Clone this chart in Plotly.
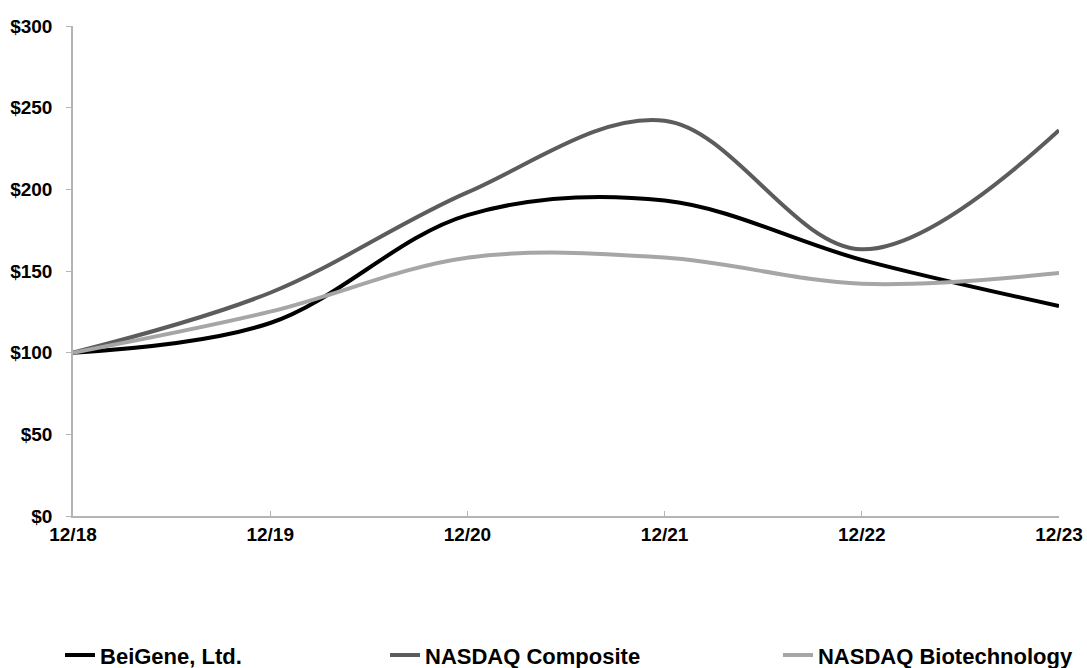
import plotly.graph_objects as go

periods = ["12/18", "12/19", "12/20", "12/21", "12/22", "12/23"]
beigene = [100, 118.16, 184.22, 193.13, 156.82, 128.58]
nasdaq_comp = [100, 136.69, 198.10, 242.03, 163.28, 236.17]
nasdaq_bio = [100, 125.11, 158.17, 158.19, 142.19, 148.72]
y_ticks = [0, 50, 100, 150, 200, 250, 300]
y_tick_labels = ["$0", "$50", "$100", "$150", "$200", "$250", "$300"]

FONT = "Liberation Sans, Arial, sans-serif"
AXIS_GRAY = "#b4b4b4"

xs = list(range(len(periods)))

fig = go.Figure()
series = [
    ("BeiGene, Ltd.", beigene, "#000000", "legend"),
    ("NASDAQ Composite", nasdaq_comp, "#5c5c5c", "legend2"),
    ("NASDAQ Biotechnology", nasdaq_bio, "#a6a6a6", "legend3"),
]
for name, vals, color, lg in series:
    fig.add_trace(go.Scatter(
        x=xs, y=vals, name=name, mode="lines",
        line=dict(color=color, width=4, shape="spline", smoothing=1),
        legend=lg, hoverinfo="skip",
    ))

legend_common = dict(
    orientation="h", xref="container", yref="container",
    yanchor="middle", xanchor="left", y=0.019,
    font=dict(family=FONT, size=22, color="#000000", weight="bold"),
    bgcolor="rgba(0,0,0,0)", borderwidth=0,
    itemwidth=30, tracegroupgap=0,
)

fig.update_layout(
    width=1087, height=668,
    margin=dict(l=73, r=28, t=26, b=152, autoexpand=False),
    paper_bgcolor="white", plot_bgcolor="white",
    font=dict(family=FONT, size=19, color="#000000"),
    showlegend=True,
    legend=dict(legend_common, x=0.0552),
    legend2=dict(legend_common, x=0.3542),
    legend3=dict(legend_common, x=0.7157),
    xaxis=dict(
        range=[0, 5], tickmode="array", tickvals=xs, ticktext=periods,
        showgrid=False, zeroline=False, showline=True, linecolor=AXIS_GRAY,
        linewidth=1.5, ticks="inside", ticklen=5, tickcolor=AXIS_GRAY,
        tickfont=dict(family=FONT, size=19, color="#000000", weight="bold"),
        ticklabelstandoff=0, automargin=False,
    ),
    yaxis=dict(
        range=[0, 300], tickmode="array", tickvals=y_ticks, ticktext=y_tick_labels,
        showgrid=False, zeroline=False, showline=True, linecolor=AXIS_GRAY,
        linewidth=1.5, ticks="outside", ticklen=5, tickcolor=AXIS_GRAY,
        tickfont=dict(family=FONT, size=19, color="#000000", weight="bold"),
        ticklabelstandoff=10, automargin=False,
    ),
)

fig.write_html(
    "out.html",
    config={"displayModeBar": False},
    post_script="document.body.style.margin='0';document.body.style.overflow='hidden';",
)
